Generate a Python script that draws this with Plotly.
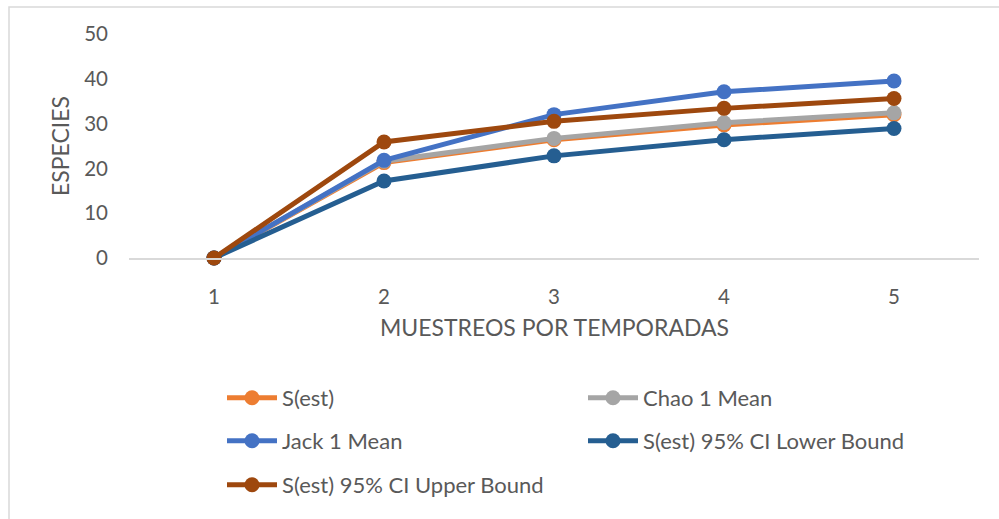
import plotly.graph_objects as go

# Sampling seasons
muestreos = [1, 2, 3, 4, 5]

# Species richness estimators
s_est = [0, 21.3, 26.4, 29.7, 32.0]
chao1_mean = [0, 21.6, 26.7, 30.2, 32.4]
jack1_mean = [0, 21.8, 32.0, 37.1, 39.5]
s_est_ci_low = [0, 17.2, 22.8, 26.4, 28.9]
s_est_ci_high = [0, 25.9, 30.5, 33.4, 35.6]

y_ticks = [0, 10, 20, 30, 40, 50]

series = [
    ("S(est)", s_est, "#ED7D31"),
    ("Chao 1 Mean", chao1_mean, "#A5A5A5"),
    ("Jack 1 Mean", jack1_mean, "#4472C4"),
    ("S(est) 95% CI Lower Bound", s_est_ci_low, "#255E91"),
    ("S(est) 95% CI Upper Bound", s_est_ci_high, "#9E480E"),
]

# legend slot (left px, row centre px) for each series
legend_slots = [(222, 398), (583, 398), (222, 441), (583, 441), (222, 485)]
legend_ids = ["legend", "legend2", "legend3", "legend4", "legend5"]

FONT = "Lato, 'Open Sans', sans-serif"
TXT = "#595959"

fig = go.Figure()
for (name, vals, color), lg in zip(series, legend_ids):
    fig.add_trace(go.Scatter(
        x=muestreos, y=vals, name=name, mode="lines+markers",
        line=dict(color=color, width=5),
        marker=dict(color=color, size=15),
        cliponaxis=False, legend=lg, showlegend=True,
    ))

L, R, T, B = 129, 20, 34, 261
W, H = 999, 519
pw, ph = W - L - R, H - T - B


def px_x(p):
    return (p - L) / pw


def px_y(p):
    return (H - B - p) / ph


def legend_cfg(left, row_y):
    return dict(
        orientation="v", x=px_x(left), y=px_y(row_y), xanchor="left", yanchor="middle",
        itemwidth=50, borderwidth=0, visible=True,
        font=dict(family=FONT, size=22, color=TXT), bgcolor="rgba(0,0,0,0)",
    )


layout_legends = {lg: legend_cfg(*slot) for lg, slot in zip(legend_ids, legend_slots)}

fig.update_layout(
    width=W, height=H,
    margin=dict(l=L, r=R, t=T, b=B),
    paper_bgcolor="white", plot_bgcolor="white",
    font=dict(family=FONT, color=TXT),
    showlegend=True,
    xaxis=dict(
        range=[0.5, 5.5], tickvals=muestreos, ticktext=[str(v) for v in muestreos],
        showgrid=False, zeroline=False, showline=True, linecolor="#d9d9d9", linewidth=1.5,
        ticks="", tickfont=dict(family=FONT, size=20.5, color=TXT), ticklabelstandoff=20,
    ),
    yaxis=dict(
        range=[0, 50], tickvals=y_ticks, showgrid=False, zeroline=False, showline=False,
        ticks="", tickfont=dict(family=FONT, size=20.5, color=TXT), ticklabelstandoff=20,
    ),
    annotations=[
        dict(text="MUESTREOS POR TEMPORADAS", x=px_x(554), y=px_y(327), xref="paper", yref="paper",
             showarrow=False, font=dict(family=FONT, size=23, color=TXT),
             xanchor="center", yanchor="middle"),
        dict(text="ESPECIES", x=px_x(60), y=px_y(146), xref="paper", yref="paper",
             showarrow=False, textangle=-90, font=dict(family=FONT, size=23, color=TXT),
             xanchor="center", yanchor="middle"),
    ],
    shapes=[
        dict(type="rect", xref="paper", yref="paper",
             x0=px_x(9), x1=px_x(1010), y0=px_y(530), y1=px_y(7),
             line=dict(color="#d9d9d9", width=1.5), layer="below"),
    ],
    **layout_legends,
)

fig.write_html("out.html")
